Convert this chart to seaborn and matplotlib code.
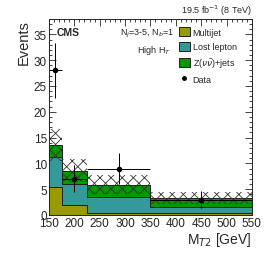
import numpy as np
import pandas as pd
import matplotlib
matplotlib.use("Agg")
import matplotlib.pyplot as plt
from matplotlib.patches import Patch
from matplotlib.lines import Line2D
from matplotlib.ticker import MultipleLocator
import seaborn as sns

# Binning in M_T2 (GeV)
bin_edges = [150, 175, 225, 350, 550]

# Background predictions per bin (stacked: multijet at bottom)
multijet = [5.4, 1.95, 0.45, 0.3]
lost_lepton = [5.8, 4.15, 2.95, 1.2]
znunu = [2.3, 2.5, 2.5, 1.8]

# Total background uncertainty band (low, high)
unc_low = [10.5, 6.4, 4.0, 2.2]
unc_high = [16.6, 10.8, 7.8, 4.4]

# Observed data
data_x = [162.5, 200, 287.5, 450]
data_y = [28, 7, 9, 3]
data_err_lo = [5.3, 2.6, 3.0, 1.7]
data_err_hi = [5.3, 2.6, 3.0, 1.6]

col_multijet = "#999900"
col_lostlep = "#339999"
col_znn = "#009900"

sns.set_style("ticks")
plt.rcParams['font.family'] = ['Liberation Sans', 'DejaVu Sans']
plt.rcParams['hatch.linewidth'] = 0.6

centers = [(bin_edges[i] + bin_edges[i + 1]) / 2 for i in range(len(bin_edges) - 1)]
rows = []
for name, vals in [("Z(vv)+jets", znunu), ("Lost lepton", lost_lepton), ("Multijet", multijet)]:
    for c, v in zip(centers, vals):
        rows.append({"mt2": c, "events": v, "proc": name})
df = pd.DataFrame(rows)

fig = plt.figure(figsize=(2.66, 2.55), dpi=100)
ax = fig.add_axes([0.184, 0.153, 0.763, 0.769])

sns.histplot(data=df, x="mt2", weights="events", hue="proc", bins=bin_edges,
             multiple="stack", element="step", fill=True, alpha=1,
             hue_order=["Z(vv)+jets", "Lost lepton", "Multijet"],
             palette=[col_znn, col_lostlep, col_multijet],
             edgecolor="#202020", linewidth=0.7, legend=False, ax=ax)

# uncertainty hatch drawn on top of the stack
widths = np.diff(bin_edges)
ax.bar(bin_edges[:-1], np.array(unc_high) - np.array(unc_low), width=widths,
       bottom=unc_low, align="edge", fill=False, hatch="xxx",
       edgecolor="#333333", linewidth=0, zorder=4)

# data points
ax.errorbar(data_x, data_y, yerr=[data_err_lo, data_err_hi],
            xerr=[np.array(data_x) - np.array(bin_edges[:-1]),
                  np.array(bin_edges[1:]) - np.array(data_x)],
            fmt="o", color="black", ms=3, elinewidth=0.7, capsize=0, zorder=5)

ax.set_xlim(150, 550)
ax.set_ylim(0, 38)
ax.xaxis.set_major_locator(MultipleLocator(50))
ax.xaxis.set_minor_locator(MultipleLocator(10))
ax.yaxis.set_major_locator(MultipleLocator(5))
ax.yaxis.set_minor_locator(MultipleLocator(1))
ax.tick_params(which="both", direction="in", top=True, right=True, labelsize=8.5, pad=1.5)
ax.tick_params(which="major", length=5, width=0.6)
ax.tick_params(which="minor", length=2.5, width=0.6)
for s in ax.spines.values():
    s.set_linewidth(0.7)
    s.set_zorder(6)

ax.set_xlabel("M$_{T2}$ [GeV]", fontsize=10, loc="right", labelpad=1)
ax.set_ylabel("Events", fontsize=10.5, loc="top", labelpad=2)

ax.text(0.04, 0.935, "CMS", transform=ax.transAxes, fontsize=7.5,
        fontweight="bold", va="center")
ax.text(1.0, 1.045, "19.5 fb$^{-1}$ (8 TeV)", transform=ax.transAxes,
        fontsize=6.5, ha="right", va="center")
ax.text(0.62, 0.93, "N$_j$=3-5, N$_b$=1", transform=ax.transAxes,
        fontsize=6.5, ha="right", va="center")
ax.text(0.60, 0.845, "High H$_T$", transform=ax.transAxes,
        fontsize=6.5, ha="right", va="center")

handles = [Patch(facecolor=col_multijet, edgecolor="#202020", linewidth=0.7),
           Patch(facecolor=col_lostlep, edgecolor="#202020", linewidth=0.7),
           Patch(facecolor=col_znn, edgecolor="#202020", linewidth=0.7),
           Line2D([], [], marker="o", color="black", ms=2.5, linestyle="none")]
labels = ["Multijet", "Lost lepton", r"Z($\nu\bar{\nu}$)+jets", "Data"]
ax.legend(handles, labels, loc="upper left", bbox_to_anchor=(0.61, 0.99),
          frameon=False, fontsize=6.5, handlelength=1.2, handleheight=1.2,
          handletextpad=0.3, labelspacing=0.55, borderpad=0.2)

fig.savefig("out.png", dpi=100)
